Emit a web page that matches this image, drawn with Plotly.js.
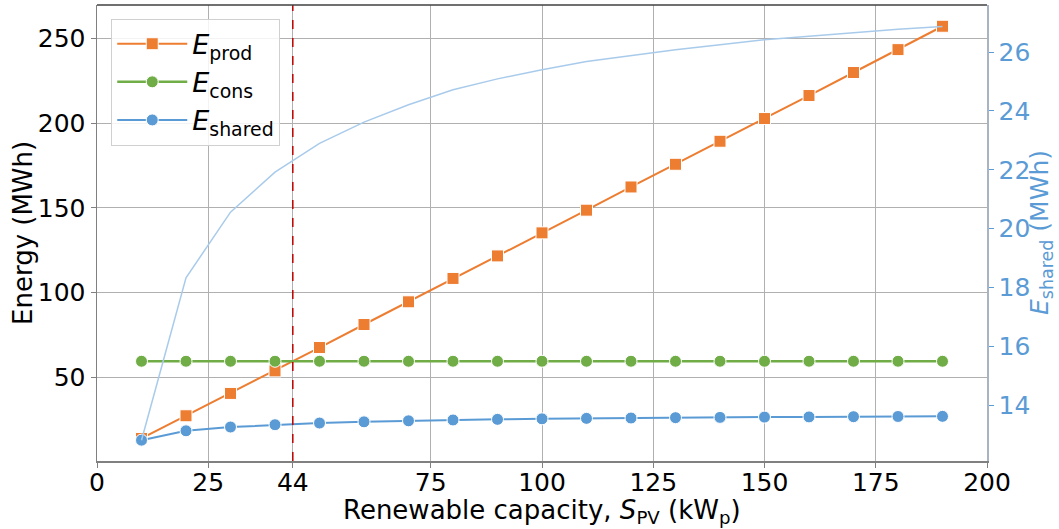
<!DOCTYPE html>
<html>
<head>
<meta charset="utf-8">
<script src="https://cdn.plot.ly/plotly-3.0.1.min.js"></script>
<style>html,body{margin:0;padding:0;background:#fff;}#chart{width:1059px;height:529px;}</style>
</head>
<body>
<div id="chart"></div>
<script>
// Data
const capacity = [10, 20, 30, 40, 50, 60, 70, 80, 90, 100, 110, 120, 130, 140, 150, 160, 170, 180, 190];
const eProd = [13.8, 27.2, 40.4, 53.7, 67.5, 81.1, 94.5, 108.3, 121.6, 135.2, 148.6, 162.3, 175.7, 189.3, 202.7, 216.3, 229.9, 243.4, 257.2];
const eCons = [59.4, 59.4, 59.4, 59.4, 59.4, 59.4, 59.4, 59.4, 59.4, 59.4, 59.4, 59.4, 59.4, 59.4, 59.4, 59.4, 59.4, 59.4, 59.4];
const eShared = [12.81, 18.33, 20.56, 21.92, 22.90, 23.62, 24.21, 24.72, 25.09, 25.40, 25.68, 25.88, 26.08, 26.25, 26.42, 26.54, 26.66, 26.78, 26.87];
const xTickVals = [0, 25, 44, 75, 100, 125, 150, 175, 200];
const xTickText = ["0", "25", "44", "75", "100", "125", "150", "175", "200"];
const yTickVals = [50, 100, 150, 200, 250];
const y2TickVals = [14, 16, 18, 20, 22, 24, 26];
const markerX = 44;

const font = "DejaVu Sans, sans-serif";
const cOrange = "#ED7D31", cGreen = "#70AD47", cBlue = "#5B9BD5", cLight = "#A9CBEB", cRed = "#C00000";

const traces = [
  {x: capacity, y: eShared, yaxis: "y2", mode: "lines", showlegend: false,
   line: {color: cLight, width: 1.5}, hoverinfo: "skip"},
  {x: capacity, y: eProd, mode: "lines+markers", name: "<i>E</i><sub>prod</sub>",
   line: {color: cOrange, width: 2}, marker: {symbol: "square", size: 12, color: cOrange, line: {color: "#fff", width: 1}}},
  {x: capacity, y: eCons, mode: "lines+markers", name: "<i>E</i><sub>cons</sub>",
   line: {color: cGreen, width: 2.5}, marker: {symbol: "circle", size: 12, color: cGreen, line: {color: "#fff", width: 1}}},
  {x: capacity, y: eShared, mode: "lines+markers", name: "<i>E</i><sub>shared</sub>",
   line: {color: cBlue, width: 2}, marker: {symbol: "circle", size: 12, color: cBlue, line: {color: "#fff", width: 1}}}
];

const layout = {
  width: 1059, height: 529,
  margin: {l: 97, r: 72, t: 5, b: 68},
  paper_bgcolor: "#fff", plot_bgcolor: "#fff",
  font: {family: font, size: 25, color: "#000"},
  showlegend: true,
  legend: {x: 0.016, y: 0.97, xanchor: "left", yanchor: "top",
           bgcolor: "rgba(255,255,255,0.85)", bordercolor: "#d0d0d0", borderwidth: 1,
           font: {family: font, size: 27}, itemwidth: 70, tracegroupgap: 0},
  xaxis: {range: [0, 200], tickvals: xTickVals, ticktext: xTickText,
          showgrid: true, gridcolor: "#b0b0b0", gridwidth: 1,
          showline: true, linecolor: "#808080", linewidth: 1.5, mirror: false,
          ticks: "outside", ticklen: 5, tickcolor: "#808080", zeroline: false,
          ticklabelstandoff: -7,
          tickfont: {family: font, size: 25}},
  yaxis: {range: [0.5, 269.75], tickvals: yTickVals,
          showgrid: true, gridcolor: "#b0b0b0", gridwidth: 1,
          showline: true, linecolor: "#808080", linewidth: 1.5,
          ticks: "outside", ticklen: 5, tickcolor: "#808080", zeroline: false,
          tickfont: {family: font, size: 25}},
  yaxis2: {overlaying: "y", side: "right", range: [12.105, 27.6], tickvals: y2TickVals,
           showgrid: false, zeroline: false,
           showline: true, linecolor: "#a8b4c4", linewidth: 1.5,
           ticks: "outside", ticklen: 5, tickcolor: cBlue,
           tickfont: {family: font, size: 25, color: cBlue}},
  annotations: [
    {text: "Renewable capacity, <i>S</i><sub>PV</sub> (kW<sub>p</sub>)", xref: "paper", yref: "paper",
     x: 0.5, y: 0, xanchor: "center", yanchor: "middle", yshift: -50, showarrow: false,
     font: {family: font, size: 26, color: "#000"}},
    {text: "Energy (MWh)", xref: "paper", yref: "paper", textangle: -90,
     x: 0, y: 0.5, xanchor: "center", yanchor: "middle", xshift: -74, showarrow: false,
     font: {family: font, size: 26, color: "#000"}},
    {text: "<i>E</i><sub>shared</sub> (MWh)", xref: "paper", yref: "paper", textangle: -90,
     x: 1, y: 0.5, xanchor: "center", yanchor: "middle", xshift: 54, showarrow: false,
     font: {family: font, size: 25, color: cBlue}}
  ],
  shapes: [
    {type: "line", xref: "x", yref: "paper", x0: markerX, x1: markerX, y0: 0, y1: 1,
     line: {color: cRed, width: 1.5, dash: "dash"}},
    {type: "line", xref: "paper", yref: "paper", x0: 0, x1: 1, y0: 1, y1: 1,
     line: {color: "#404040", width: 1.5}}
  ]
};

Plotly.newPlot("chart", traces, layout, {displayModeBar: false, staticPlot: true});
</script>
</body>
</html>
